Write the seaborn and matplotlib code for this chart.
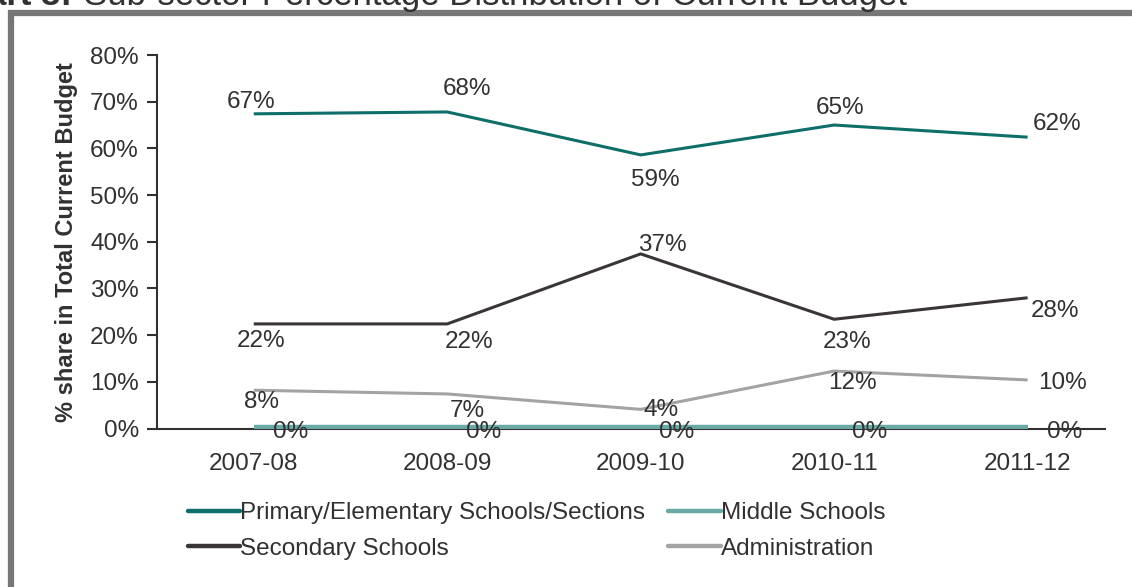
import matplotlib
matplotlib.use("Agg")
import matplotlib.pyplot as plt
from matplotlib.lines import Line2D
from matplotlib.patches import Rectangle
import seaborn as sns
import pandas as pd

# Budget years and the share (%) of total current budget by sub-sector
years = ["2007-08", "2008-09", "2009-10", "2010-11", "2011-12"]
primary = [67.4, 67.8, 58.6, 65.0, 62.4]
middle = [0.3, 0.3, 0.3, 0.3, 0.3]
secondary = [22.4, 22.4, 37.4, 23.4, 28.0]
administration = [8.2, 7.4, 4.1, 12.3, 10.4]

series_names = ["Primary/Elementary Schools/Sections", "Middle Schools",
                "Secondary Schools", "Administration"]
series_values = [primary, middle, secondary, administration]

colors = {
    "Primary/Elementary Schools/Sections": "#0e6e69",
    "Middle Schools": "#6aaaa6",
    "Secondary Schools": "#3a3637",
    "Administration": "#a2a4a3",
}
widths = {
    "Primary/Elementary Schools/Sections": 2.2,
    "Middle Schools": 3.2,
    "Secondary Schools": 2.2,
    "Administration": 2.2,
}
# value-label offsets in pixels (dx, dy) per series and year
label_offsets = {
    "Primary/Elementary Schools/Sections": [(-3, 12), (20, 23), (15, -25), (6, 17), (29, 13)],
    "Middle Schools": [(37, -5), (36, -5), (36, -5), (35, -5), (37, -5)],
    "Secondary Schools": [(7, -17), (22, -18), (22, 9), (13, -23), (27, -13)],
    "Administration": [(8, -12), (20, -17), (20, -1), (18, -12), (35, -3)],
}

df = pd.DataFrame(
    [(y, n, v) for n, vals in zip(series_names, series_values) for y, v in zip(years, vals)],
    columns=["year", "series", "share"],
)

sns.set_theme(style="white")
plt.rcParams["font.family"] = ["Liberation Sans", "DejaVu Sans"]
text_color = "#333031"
fs = 17.5

fig = plt.figure(figsize=(11.32, 5.87), dpi=100)
ax = fig.add_axes([157 / 1132, 1 - 428.5 / 587, (1105 - 157) / 1132, (428.5 - 55) / 587])

draw_order = ["Middle Schools", "Administration", "Secondary Schools",
              "Primary/Elementary Schools/Sections"]
for name in draw_order:
    sub = df[df["series"] == name]
    sns.lineplot(data=sub, x="year", y="share", color=colors[name],
                 linewidth=widths[name], sort=False, legend=False, ax=ax,
                 solid_capstyle="butt", zorder=3)

px = 72 / 100  # pixels to points
for name in series_names:
    sub = df[df["series"] == name].reset_index(drop=True)
    for i, row in sub.iterrows():
        dx, dy = label_offsets[name][i]
        ax.annotate(f"{row['share']:.0f}%", xy=(i, row["share"]),
                    xytext=(dx * px, dy * px), textcoords="offset points",
                    ha="center", va="center", fontsize=fs, color=text_color,
                    zorder=5)

ax.set_xlim(-0.5, 4.4)
ax.set_ylim(0, 80)
ax.set_yticks(range(0, 81, 10))
ax.set_yticklabels([f"{t}%" for t in range(0, 81, 10)])
ax.set_xlabel("")
ax.set_ylabel("% share in Total Current Budget", fontsize=17, fontweight="bold",
              color=text_color, labelpad=9)
ax.tick_params(axis="y", left=True, length=7, width=1.5, color=text_color,
               labelsize=fs, labelcolor=text_color, pad=6)
ax.tick_params(axis="x", bottom=False, labelsize=fs, labelcolor=text_color, pad=12)
for s in ["top", "right"]:
    ax.spines[s].set_visible(False)
for s in ["left", "bottom"]:
    ax.spines[s].set_color(text_color)
    ax.spines[s].set_linewidth(1.5)
ax.grid(False)
ax.patch.set_alpha(0)

# legend rows: Primary | Middle / Secondary | Administration
handles = {n: Line2D([], [], color=colors[n], linewidth=3.2) for n in series_names}
order = ["Primary/Elementary Schools/Sections", "Secondary Schools",
         "Middle Schools", "Administration"]
fig.legend([handles[n] for n in order], order, ncol=2, loc="upper left",
           bbox_to_anchor=(188 / 1132, 1 - 502 / 587), frameon=False,
           fontsize=fs, handlelength=2.15, handletextpad=0.0, borderpad=0,
           borderaxespad=0, columnspacing=0.95, labelspacing=0.56,
           labelcolor=text_color)

# outer frame
fig.patches.append(Rectangle((11 / 1132, -0.1), 1.2, 1.1 - 12.5 / 587,
                             transform=fig.transFigure, fill=False,
                             edgecolor="#767676", linewidth=4.5, zorder=0))

# chart caption along the top edge
fig.text(72 / 1132, 1 - 5 / 587, "Chart 3:", fontsize=25, fontweight="bold",
         color=text_color, va="baseline", ha="right")
fig.text(84 / 1132, 1 - 5 / 587, "Sub-sector Percentage Distribution of Current Budget",
         fontsize=25, color=text_color, va="baseline", ha="left")

fig.savefig("out.png", dpi=100, facecolor="white")
